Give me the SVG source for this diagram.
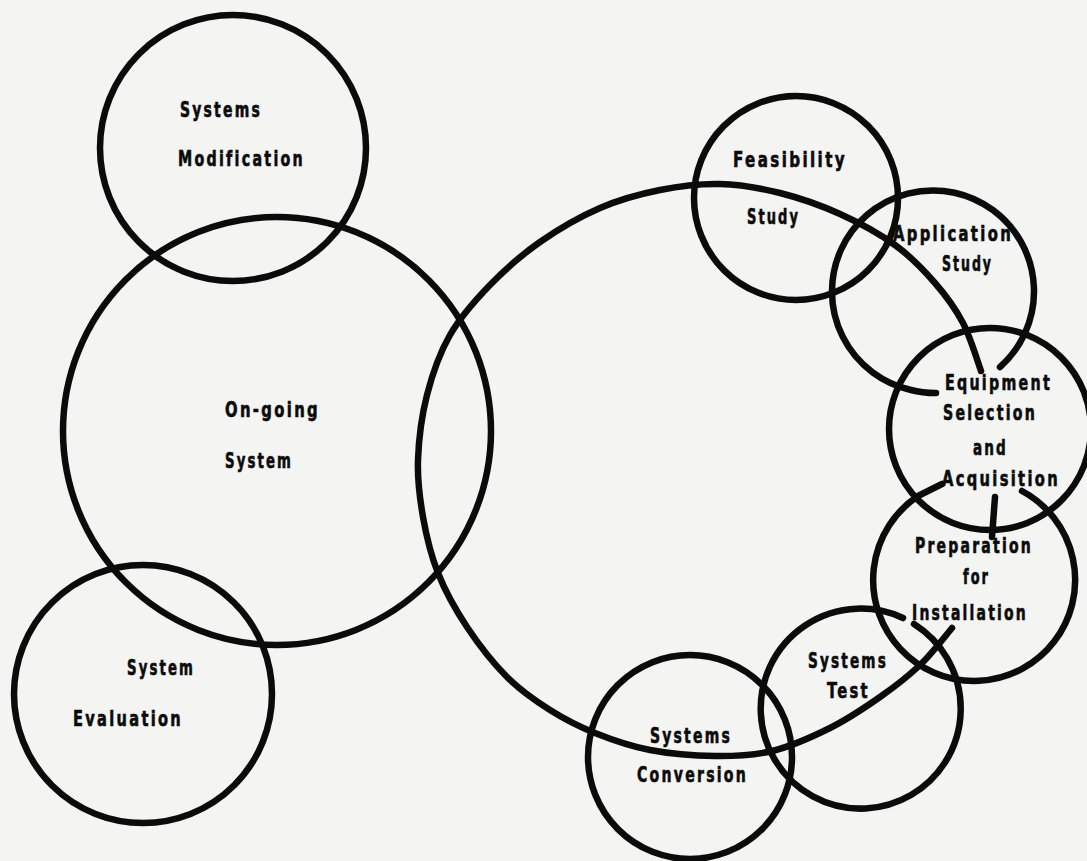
<svg xmlns="http://www.w3.org/2000/svg" width="1087" height="861" viewBox="0 0 1087 861">
  <style>
    .ln { fill: none; stroke: #0b0b0b; stroke-width: 6.5; stroke-linecap: round; stroke-linejoin: round; }
    .lb { font-family: "DejaVu Sans Condensed", "DejaVu Sans", sans-serif; font-weight: bold; font-size: 21px; letter-spacing: 3px; fill: #0b0b0b; stroke: #0b0b0b; stroke-width: 0.6px; }
  </style>
  <rect x="0" y="0" width="1087" height="861" fill="#f4f4f3"/>

  <g id="connectors">
    <path class="ln" d="M 952,628 C 946.7,634.2 932,653.5 920,665 C 908,676.5 895,686.5 880,697 C 865,707.5 848,719 830,728 C 812,737 791.2,746.3 772,751 C 752.8,755.7 735.3,756.2 715,756 C 694.7,755.8 670,753.8 650,750 C 630,746.2 611.7,739.7 595,733 C 578.3,726.3 564.7,719.3 550,710 C 535.3,700.7 520.8,690.8 507,677 C 493.2,663.2 478.5,644.3 467,627 C 455.5,609.7 445.3,591.3 438,573 C 430.7,554.7 426.3,535.8 423,517 C 419.7,498.2 417.3,480.3 418,460 C 418.7,439.7 421.7,415.8 427,395 C 432.3,374.2 439.5,353.3 450,335 C 460.5,316.7 475,300.5 490,285 C 505,269.5 521.7,254.8 540,242 C 558.3,229.2 580,216.7 600,208 C 620,199.3 640,194 660,190 C 680,186 700,183.5 720,184 C 740,184.5 760,188 780,193 C 800,198 820.8,205.3 840,214 C 859.2,222.7 879.2,233.5 895,245 C 910.8,256.5 923.7,270 935,283 C 946.3,296 955.3,308.3 963,323 C 970.7,337.7 978,363 981,371"/>
    <path class="ln" d="M 995,497 L 992,537"/>
  </g>

  <g id="systems-modification">
    <circle class="ln" cx="233" cy="148" r="133"/>
    <text class="lb" x="180" y="117" textLength="82" lengthAdjust="spacingAndGlyphs">Systems</text>
    <text class="lb" x="178" y="166" textLength="127" lengthAdjust="spacingAndGlyphs">Modification</text>
  </g>

  <g id="on-going-system">
    <circle class="ln" cx="277" cy="431" r="214"/>
    <text class="lb" x="225" y="417" textLength="95" lengthAdjust="spacingAndGlyphs">On-going</text>
    <text class="lb" x="225" y="468" textLength="68" lengthAdjust="spacingAndGlyphs">System</text>
  </g>

  <g id="system-evaluation">
    <circle class="ln" cx="143" cy="694" r="129"/>
    <text class="lb" x="127" y="675" textLength="68" lengthAdjust="spacingAndGlyphs">System</text>
    <text class="lb" x="73" y="726" textLength="110" lengthAdjust="spacingAndGlyphs">Evaluation</text>
  </g>

  <g id="feasibility-study">
    <circle class="ln" cx="796" cy="198" r="102"/>
    <text class="lb" x="733" y="167" textLength="114" lengthAdjust="spacingAndGlyphs">Feasibility</text>
    <text class="lb" x="747" y="224" textLength="53" lengthAdjust="spacingAndGlyphs">Study</text>
  </g>

  <g id="application-study">
    <path class="ln" d="M 1000,367 A 101 101 0 1 0 911,390 Q 922,393 936,393"/>
    <text class="lb" x="893" y="241" textLength="120" lengthAdjust="spacingAndGlyphs">Application</text>
    <text class="lb" x="942" y="271" textLength="51" lengthAdjust="spacingAndGlyphs">Study</text>
  </g>

  <g id="equipment-selection">
    <circle class="ln" cx="990" cy="429" r="101"/>
    <text class="lb" x="945" y="390" textLength="107" lengthAdjust="spacingAndGlyphs">Equipment</text>
    <text class="lb" x="943" y="420" textLength="94" lengthAdjust="spacingAndGlyphs">Selection</text>
    <text class="lb" x="973" y="455" textLength="35" lengthAdjust="spacingAndGlyphs">and</text>
    <text class="lb" x="942" y="486" textLength="118" lengthAdjust="spacingAndGlyphs">Acquisition</text>
  </g>

  <g id="preparation-installation">
    <path class="ln" d="M 1022,491 A 101 101 0 1 1 918,496 L 942,484"/>
    <text class="lb" x="915" y="553" textLength="118" lengthAdjust="spacingAndGlyphs">Preparation</text>
    <text class="lb" x="963" y="584" textLength="27" lengthAdjust="spacingAndGlyphs">for</text>
    <text class="lb" x="912" y="620" textLength="116" lengthAdjust="spacingAndGlyphs">Installation</text>
  </g>

  <g id="systems-test">
    <path class="ln" d="M 914,624 A 100 100 0 1 1 903,618"/>
    <text class="lb" x="808" y="668" textLength="80" lengthAdjust="spacingAndGlyphs">Systems</text>
    <text class="lb" x="827" y="698" textLength="43" lengthAdjust="spacingAndGlyphs">Test</text>
  </g>

  <g id="systems-conversion">
    <circle class="ln" cx="690" cy="757" r="102"/>
    <text class="lb" x="650" y="743" textLength="82" lengthAdjust="spacingAndGlyphs">Systems</text>
    <text class="lb" x="637" y="782" textLength="111" lengthAdjust="spacingAndGlyphs">Conversion</text>
  </g>
</svg>
